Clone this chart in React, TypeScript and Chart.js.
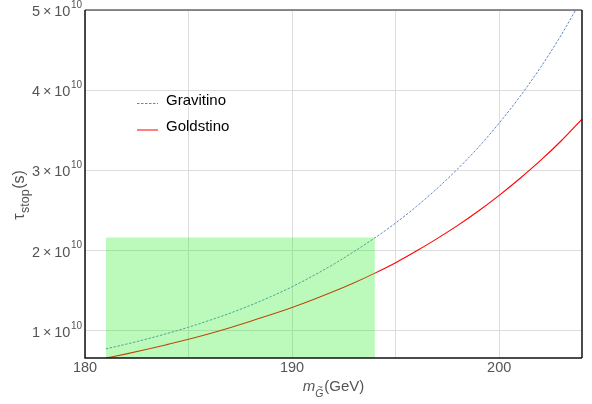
import React, { useEffect, useRef } from "react";
import { Chart, registerables } from "chart.js";

Chart.register(...registerables);

// stop mass in GeV
const massGeV = [181, 182, 183, 184, 185, 186, 187, 188, 189, 190, 191, 192, 193, 194, 195, 196, 197, 198, 199, 200, 201, 202, 203, 204];
// lifetime in units of 10^10 s
const gravitino = [0.775, 0.835, 0.9, 0.97, 1.046, 1.13, 1.22, 1.32, 1.43, 1.55, 1.685, 1.83, 1.99, 2.16, 2.345, 2.55, 2.775, 3.02, 3.29, 3.59, 3.92, 4.285, 4.69, 5.14];
const goldstino = [0.66, 0.713, 0.77, 0.832, 0.896, 0.965, 1.04, 1.12, 1.203, 1.292, 1.388, 1.49, 1.6, 1.72, 1.85, 1.995, 2.15, 2.315, 2.495, 2.69, 2.9, 3.125, 3.37, 3.64];
// shaded region
const bandMass = [181, 194];
const bandTop = 2.165;

const seriesLabels = ["Gravitino", "Goldstino"];
const xGridTicks = [180, 185, 190, 195, 200];
const xTickLabels = [180, 190, 200];
const yTickValues = [1, 2, 3, 4, 5];
const yExponent = "10";
const xMin = 180;
const xMax = 204;
const yMin = 0.662;
const yMax = 5;

const FONT = '"Liberation Sans", Arial, Helvetica, sans-serif';
const GRAV_COLOR = "#6386c2";
const GOLD_COLOR = "#ff0000";

const decorPlugin = {
  id: "decor",
  afterDraw(chart: any) {
    const { ctx, chartArea: a, scales } = chart;
    const x = scales.x;
    const y = scales.y;
    ctx.save();

    // frame
    ctx.lineWidth = 1.5;
    ctx.strokeStyle = "#666";
    ctx.beginPath();
    ctx.moveTo(a.left, a.top);
    ctx.lineTo(a.right, a.top);
    ctx.stroke();
    ctx.strokeStyle = "#111";
    ctx.beginPath();
    ctx.moveTo(a.right, a.top);
    ctx.lineTo(a.right, a.bottom);
    ctx.stroke();
    ctx.beginPath();
    ctx.moveTo(a.left, a.top);
    ctx.lineTo(a.left, a.bottom);
    ctx.lineTo(a.right, a.bottom);
    ctx.stroke();

    // x tick labels
    ctx.fillStyle = "#555";
    ctx.font = `14.5px ${FONT}`;
    ctx.textAlign = "center";
    ctx.textBaseline = "middle";
    xTickLabels.forEach((v) => {
      ctx.fillText(String(v), x.getPixelForValue(v), a.bottom + 10);
    });

    // y tick labels  n × 10^10
    yTickValues.forEach((v) => {
      const py = y.getPixelForValue(v);
      const right = a.left - 3;
      ctx.textAlign = "right";
      ctx.font = `10px ${FONT}`;
      const sw = ctx.measureText(yExponent).width;
      ctx.fillText(yExponent, right, py - 5);
      ctx.font = `14.5px ${FONT}`;
      ctx.fillText(`${v}\u2009\u00d7\u200910`, right - sw - 0.5, py + 2);
    });

    // x title: m_G~ (GeV)
    {
      const cx = (a.left + a.right) / 2;
      const by = a.bottom + 29;
      ctx.textBaseline = "middle";
      ctx.textAlign = "left";
      const mainIt = `italic 15px ${FONT}`;
      const subIt = `italic 10.5px ${FONT}`;
      const main = `15px ${FONT}`;
      ctx.font = mainIt;
      const wm = ctx.measureText("m").width;
      ctx.font = subIt;
      const wg = ctx.measureText("G").width;
      ctx.font = main;
      const wu = ctx.measureText("(GeV)").width;
      const total = wm + wg + 1 + wu;
      let sx = cx - total / 2;
      ctx.font = mainIt;
      ctx.fillText("m", sx, by);
      sx += wm;
      ctx.font = subIt;
      ctx.fillText("G", sx, by + 7);
      ctx.font = `9px ${FONT}`;
      ctx.textAlign = "center";
      ctx.fillText("~", sx + wg / 2 + 1, by + 0.5);
      ctx.textAlign = "left";
      sx += wg + 1;
      ctx.font = main;
      ctx.fillText("(GeV)", sx, by);
    }

    // y title: tau_stop (s)
    {
      const cy = 195;
      const cx = 20;
      ctx.save();
      ctx.translate(cx, cy);
      ctx.rotate(-Math.PI / 2);
      ctx.textBaseline = "middle";
      ctx.textAlign = "left";
      const main = `16px ${FONT}`;
      const sub = `12.5px ${FONT}`;
      ctx.font = main;
      const wt = ctx.measureText("\u03c4").width;
      const ws = ctx.measureText("(s)").width;
      ctx.font = sub;
      const wsub = ctx.measureText("stop").width;
      const total = wt + wsub + ws + 1;
      let sx = -total / 2;
      ctx.font = main;
      ctx.fillText("\u03c4", sx, 0);
      sx += wt + 0.5;
      ctx.font = sub;
      ctx.fillText("stop", sx, 5.5);
      sx += wsub + 0.5;
      ctx.font = main;
      ctx.fillText("(s)", sx, 0);
      ctx.restore();
    }

    // legend
    {
      const lx0 = 137;
      const lx1 = 158;
      const tx = 166;
      const rows = [
        { y: 100.5, color: GRAV_COLOR, dash: [2.5, 1.5], label: chart.data.datasets[1].label },
        { y: 127, color: GOLD_COLOR, dash: [], label: chart.data.datasets[2].label },
      ];
      rows.forEach((r) => {
        ctx.strokeStyle = r.color;
        ctx.lineWidth = 1;
        ctx.setLineDash(r.dash);
        ctx.beginPath();
        ctx.moveTo(lx0, r.y + 3);
        ctx.lineTo(lx1, r.y + 3);
        ctx.stroke();
        ctx.setLineDash([]);
        ctx.fillStyle = "#000";
        ctx.font = `15px ${FONT}`;
        ctx.textAlign = "left";
        ctx.textBaseline = "middle";
        ctx.fillText(r.label, tx, r.y);
      });
    }

    ctx.restore();
  },
};

export default function App() {
  const ref = useRef<HTMLCanvasElement | null>(null);

  useEffect(() => {
    if (!ref.current) return;
    const chart = new Chart(ref.current, {
      type: "line",
      data: {
        datasets: [
          {
            label: "band",
            data: bandMass.map((m) => ({ x: m, y: bandTop })),
            fill: "start",
            backgroundColor: "rgba(30,240,30,0.3)",
            borderColor: "rgba(0,0,0,0)",
            borderWidth: 0,
            pointRadius: 0,
          },
          {
            label: seriesLabels[0],
            data: massGeV.map((m, i) => ({ x: m, y: gravitino[i] })),
            borderColor: GRAV_COLOR,
            borderWidth: 1,
            borderDash: [2.5, 1.5],
            pointRadius: 0,
            fill: false,
            cubicInterpolationMode: "monotone",
          },
          {
            label: seriesLabels[1],
            data: massGeV.map((m, i) => ({ x: m, y: goldstino[i] })),
            borderColor: GOLD_COLOR,
            borderWidth: 1.1,
            borderJoinStyle: "round",
            pointRadius: 0,
            fill: false,
            cubicInterpolationMode: "monotone",
          },
        ],
      },
      options: {
        responsive: false,
        animation: false,
        layout: { padding: { left: 85, top: 10, right: 10, bottom: 46 } },
        plugins: { legend: { display: false }, tooltip: { enabled: false } },
        scales: {
          x: {
            type: "linear",
            min: xMin,
            max: xMax,
            afterBuildTicks: (axis: any) => {
              axis.ticks = xGridTicks.map((v) => ({ value: v }));
            },
            ticks: { display: false },
            grid: { color: "#dcdcdc", drawTicks: false, lineWidth: 1 },
            border: { display: false },
          },
          y: {
            type: "linear",
            min: yMin,
            max: yMax,
            afterBuildTicks: (axis: any) => {
              axis.ticks = yTickValues.map((v) => ({ value: v }));
            },
            ticks: { display: false },
            grid: { color: "#dcdcdc", drawTicks: false, lineWidth: 1 },
            border: { display: false },
          },
        },
      },
      plugins: [decorPlugin],
    });
    return () => chart.destroy();
  }, []);

  return (
    <div style={{ position: "fixed", left: 0, top: 0, width: 592, height: 404, background: "#fff" }}>
      <canvas ref={ref} width={592} height={404} style={{ width: 592, height: 404, display: "block" }} />
    </div>
  );
}
